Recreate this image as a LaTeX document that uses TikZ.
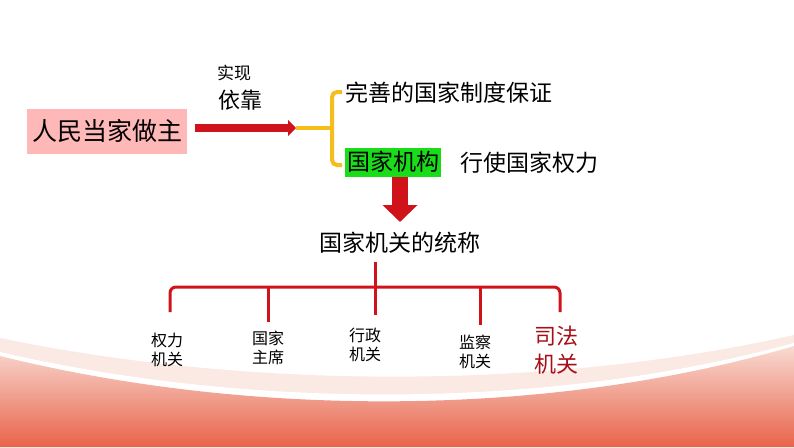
\documentclass[tikz,border=0pt]{standalone}
\usepackage{fontspec}
\setmainfont{Noto Sans CJK SC}
\usetikzlibrary{arrows.meta}
\definecolor{dred}{HTML}{D0121B}
\definecolor{ybr}{HTML}{F7BD1A}
\definecolor{bgred}{HTML}{E8634A}
\definecolor{bgpink}{HTML}{F9DAD2}
\tikzset{
  t/.style={inner sep=0pt,anchor=center},
  leaf/.style={t,font=\fontsize{16}{19}\selectfont,align=center},
}
\begin{document}
\begin{tikzpicture}[x=1pt,y=-1pt]
\useasboundingbox (0,0) rectangle (794,447);
\fill[white] (0,0) rectangle (794,447);
% background bands
\fill[bgpink!60] (0,338) .. controls (250,390) and (550,390) .. (794,335) -- (794,447) -- (0,447) -- cycle;
\fill[white] (0,352) .. controls (250,410) and (550,410) .. (794,343) -- (794,447) -- (0,447) -- cycle;
\shade[top color=bgpink, bottom color=bgred] (0,356) .. controls (250,418) and (550,418) .. (794,346) -- (794,447) -- (0,447) -- cycle;
% main box
\node[t,fill=red!20!pink!70,minimum width=160,minimum height=45,font=\fontsize{25}{28}\selectfont] (rm) at (107,131) {人民当家做主};
\node[t,font=\fontsize{17}{20}\selectfont] (sx) at (234,73) {实现};
\node[t,font=\fontsize{22}{26}\selectfont] (yk) at (240,100) {依靠};
\coordinate (ae) at (296,128);
\draw[dred,line width=8,-{Triangle[length=8,width=16]}] (195,128) -- (ae);
% bracket
\coordinate (bm) at (332,128);
\draw[ybr,line width=4] (ae) -- (bm);
\draw[ybr,line width=4,rounded corners=5] (342,92) -- (332,92) -- (332,165) -- (342,165);
\node[t,anchor=west,font=\fontsize{23}{26}\selectfont] (ws) at (345,93) {完善的国家制度保证};
\node[t,anchor=west,fill=green!85!black!90,minimum height=29,inner xsep=2,font=\fontsize{23}{26}\selectfont] (gj) at (345,162) {国家机构};
\node[t,anchor=west,font=\fontsize{23}{26}\selectfont] (xs) at (460,163) {行使国家权力};
% down arrow
\node[t,font=\fontsize{23}{26}\selectfont] (tc) at (400,243) {国家机关的统称};
\draw[dred,line width=16,-{Triangle[length=17,width=34]}] (400,177) -- (400,222);
% tree
\coordinate (top) at (375,262);
\draw[dred,line width=3,rounded corners=6] (170,312) -- (170,287) -- (560,287) -- (560,312);
\draw[dred,line width=3] (top) -- (375,315);
\draw[dred,line width=3] (268,287) -- (268,322);
\draw[dred,line width=3] (480,287) -- (480,325);
\node[leaf] (l1) at (167,350) {权力\\机关};
\node[leaf] (l2) at (268,348) {国家\\主席};
\node[leaf] (l3) at (365,345) {行政\\机关};
\node[leaf] (l4) at (475,352) {监察\\机关};
\node[leaf,text=dred!80!black,font=\fontsize{22}{28}\selectfont] (l5) at (556,350) {司法\\机关};
\end{tikzpicture}
\end{document}
